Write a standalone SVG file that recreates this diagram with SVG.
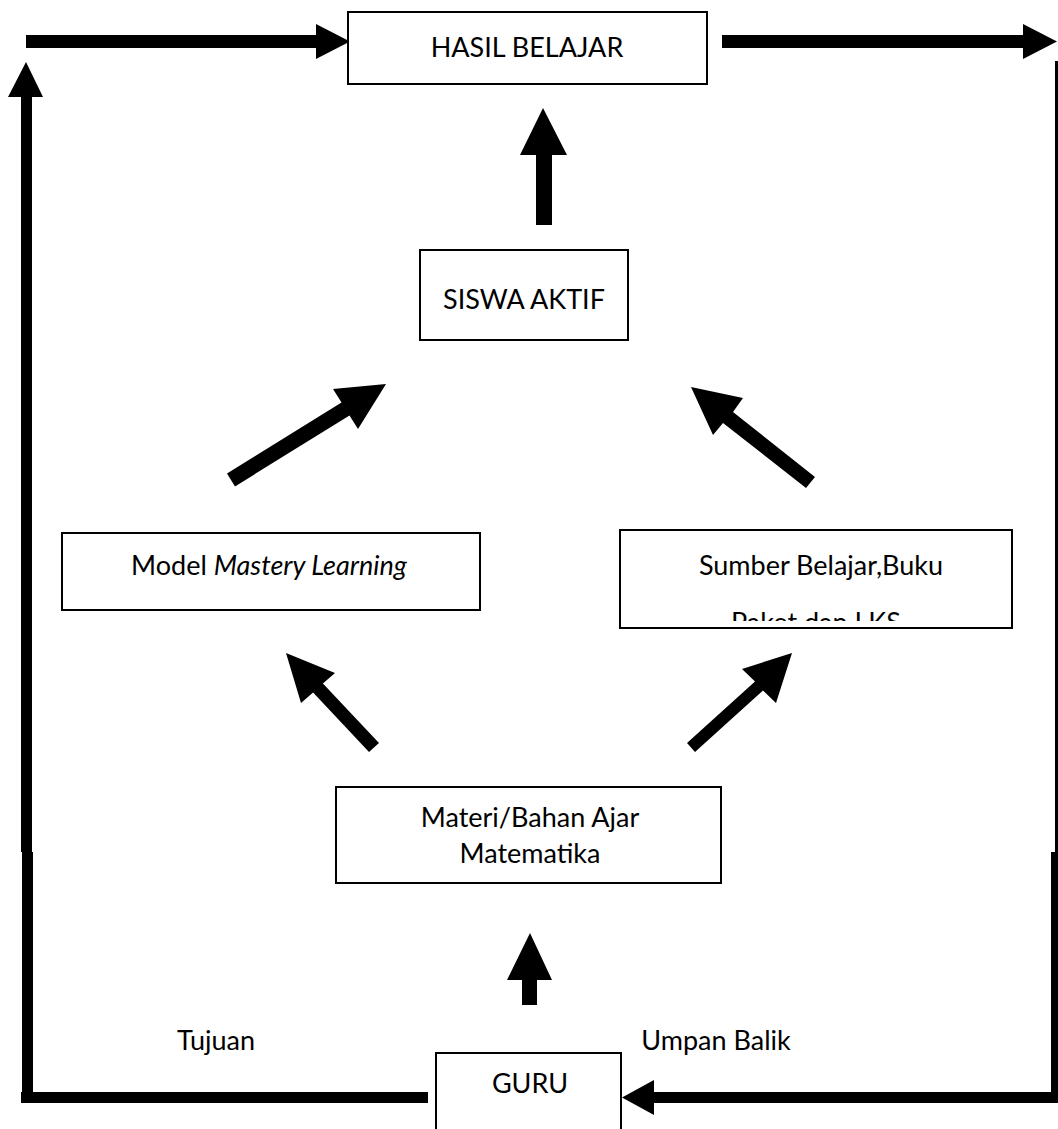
<svg xmlns="http://www.w3.org/2000/svg" width="1058" height="1129" viewBox="0 0 1058 1129">
<style>
.box{fill:#fff;stroke:#000;stroke-width:2}
.t{font-family:Lato,"Open Sans","Liberation Sans",sans-serif;font-size:27px;fill:#000;text-anchor:middle}
.a{fill:#000}
</style>
<defs>
<clipPath id="clipSumber"><rect x="621" y="531" width="390" height="90"/></clipPath>
</defs>
<rect width="1058" height="1129" fill="#fff"/>
<g id="connectors">
<polygon class="a" points="26,35 316,35 316,24 350,41.5 316,59 316,48 26,48"/>
<polygon class="a" points="722,35 1023,35 1023,24 1057,41.5 1023,59 1023,48 722,48"/>
<polygon class="a" points="21,852 21,97 8,97 26,62 43,97 32,97 32,852"/>
<rect class="a" x="22" y="852" width="11" height="251"/>
<rect class="a" x="21" y="1092" width="407" height="11"/>
<rect class="a" x="1055" y="61" width="3" height="791"/>
<rect class="a" x="1051" y="852" width="7" height="251"/>
<polygon class="a" points="1058,1092 654,1092 654,1080 622,1097.5 654,1115 654,1103 1058,1103"/>
<polygon class="a" points="536,225 536,155 520,155 543,108 567,155 552,155 552,225"/>
<polygon class="a" points="227,473.6 341.5,402.6 333,389 386,384 358,429 349.5,415.4 235,486.4"/>
<polygon class="a" points="691,387 743,398 733,412 815,477 806,488 723,423 713,435"/>
<polygon class="a" points="286,653 335,673 322.9,683.4 379,743 369,752 313.1,692.6 301,703"/>
<polygon class="a" points="792,653 742,669 755,681.5 687,743 695,752 763,690.5 776,703"/>
<polygon class="a" points="522,1005 522,980 507,980 530,933 552,980 537,980 537,1005"/>
</g>
<g id="hasil">
<rect class="box" x="348" y="12" width="359" height="72"/>
<text class="t" x="527" y="57">HASIL BELAJAR</text>
</g>
<g id="siswa">
<rect class="box" x="420" y="250" width="208" height="90"/>
<text class="t" x="524" y="309">SISWA AKTIF</text>
</g>
<g id="model">
<rect class="box" x="62" y="533" width="418" height="77"/>
<text class="t" x="269" y="575">Model <tspan font-style="italic">Mastery Learning</tspan></text>
</g>
<g id="sumber">
<rect class="box" x="620" y="530" width="392" height="98"/>
<text class="t" x="821" y="575">Sumber Belajar,Buku</text>
<text class="t" x="816" y="632" clip-path="url(#clipSumber)">Paket dan LKS</text>
</g>
<g id="materi">
<rect class="box" x="336" y="787" width="385" height="96"/>
<text class="t" x="530" y="827">Materi/Bahan Ajar</text>
<text class="t" x="530" y="863">Matematika</text>
</g>
<g id="guru">
<rect class="box" x="436" y="1053" width="185" height="90"/>
<text class="t" x="530" y="1093">GURU</text>
</g>
<g id="labels">
<text class="t" x="216" y="1050">Tujuan</text>
<text class="t" x="716" y="1050">Umpan Balik</text>
</g>
</svg>
